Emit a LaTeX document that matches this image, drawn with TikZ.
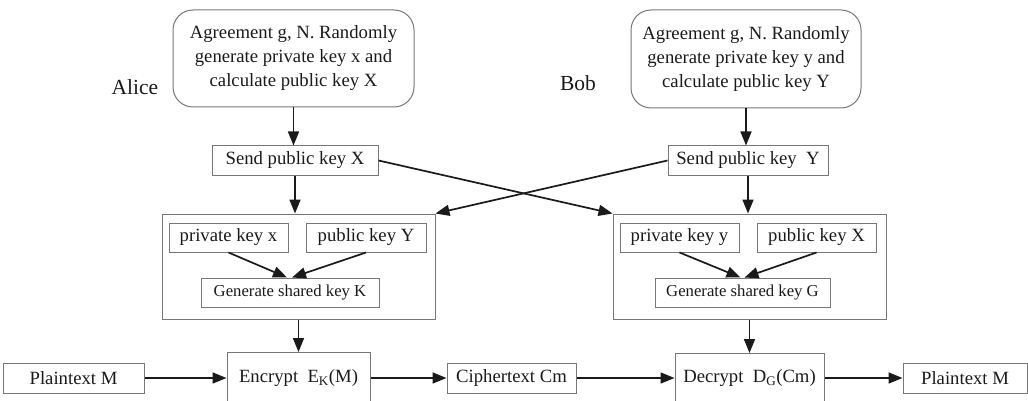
\documentclass[tikz,border=0pt]{standalone}
\usepackage{fontspec}
\setmainfont{Liberation Serif}
\usetikzlibrary{arrows.meta}
\definecolor{boxgray}{HTML}{777777}
\definecolor{inkdark}{HTML}{1A1A1A}
\begin{document}
\begin{tikzpicture}[x=1pt,y=-1pt,
  txt/.style={font=\fontsize{18.7}{24}\selectfont, text=inkdark},
  box/.style={draw=boxgray, line width=1pt, inner sep=0pt, txt},
  roundbox/.style={box, rounded corners=20pt, align=center},
  smallbox/.style={box, font=\fontsize{16.7}{20}\selectfont},
  frame/.style={draw=boxgray, line width=1pt, inner sep=0pt},
  who/.style={font=\fontsize{21.5}{24}\selectfont, text=inkdark},
  arr/.style={draw=inkdark, line width=1.7pt, -{Triangle[length=14pt,width=11pt]}}
]
\useasboundingbox (0,0) rectangle (1028,401);
\clip (0,0) rectangle (1028,401);

% party labels
\node[who] (alice) at (135,87) {Alice};
\node[who] (bob) at (578,83) {Bob};

% key generation
\node[roundbox, minimum width=241pt, minimum height=97pt] (topA) at (293.5,58.5)
  {Agreement g, N. Randomly\\generate private key x and\\calculate public key X};
\node[roundbox, minimum width=230pt, minimum height=98pt] (topB) at (746,59)
  {Agreement g, N. Randomly\\generate private key y and\\calculate public key Y};

% key exchange
\node[box, minimum width=166pt, minimum height=29pt] (sendX) at (295,160.5) {Send public key X};
\node[box, minimum width=160pt, minimum height=29pt] (sendY) at (748,160.5) {Send public key\ \ Y};

% shared key derivation, Alice
\node[frame, minimum width=273pt, minimum height=105pt] (bigA) at (298.5,266.5) {};
\node[box, minimum width=119pt, minimum height=29pt] (privx) at (228.5,237.5) {private key x};
\node[box, minimum width=120pt, minimum height=29pt] (pubY) at (366,237.5) {public key Y};
\node[smallbox, minimum width=178pt, minimum height=29pt] (genK) at (290,292.5) {Generate shared key K};

% shared key derivation, Bob
\node[frame, minimum width=273pt, minimum height=105pt] (bigB) at (749.5,266.5) {};
\node[box, minimum width=119pt, minimum height=29pt] (privy) at (679.5,237.5) {private key y};
\node[box, minimum width=119pt, minimum height=29pt] (pubX) at (816.5,237.5) {public key X};
\node[smallbox, minimum width=175pt, minimum height=29pt] (genG) at (742.5,292.5) {Generate shared key G};

% message path
\node[box, minimum width=141pt, minimum height=30pt] (plainL) at (73.5,378) {Plaintext M};
\node[frame, minimum width=143pt, minimum height=70pt, anchor=north] (enc) at (298.5,352) {};
\node[txt] (enctext) at (298.5,378) {Encrypt\ \ E\textsubscript{K}(M)};
\node[box, minimum width=129pt, minimum height=30pt] (cipher) at (511.5,378) {Ciphertext Cm};
\node[frame, minimum width=149pt, minimum height=70pt, anchor=north] (dec) at (749.5,353) {};
\node[txt] (dectext) at (749.5,378) {Decrypt\ \ D\textsubscript{G}(Cm)};
\node[box, minimum width=124pt, minimum height=30pt] (plainR) at (965,378) {Plaintext M};

% connectors
\draw[arr] (topA.south) -- (topA.south |- sendX.north);
\draw[arr] (topB.south) -- (topB.south |- sendY.north);
\draw[arr] (sendX.south) -- (sendX.south |- bigA.north);
\draw[arr] (sendY.south) -- (sendY.south |- bigB.north);
\draw[arr] (sendX.east) -- (bigB.north west);
\draw[arr] (sendY.west) -- (bigA.north east);

\draw[arr] (privx.south) -- ([xshift=-3pt]genK.north);
\draw[arr] (pubY.south) -- ([xshift=2pt]genK.north);
\draw[arr] (privy.south) -- ([xshift=-2pt]genG.north);
\draw[arr] (pubX.south) -- ([xshift=2pt]genG.north);

\draw[arr] (bigA.south) -- (enc.north);
\draw[arr] (bigB.south) -- (dec.north);

\draw[arr] (plainL.east) -- (plainL.east -| enc.west);
\draw[arr] (enc.east |- cipher.west) -- (cipher.west);
\draw[arr] (cipher.east) -- (cipher.east -| dec.west);
\draw[arr] (dec.east |- plainR.west) -- (plainR.west);
\end{tikzpicture}
\end{document}
